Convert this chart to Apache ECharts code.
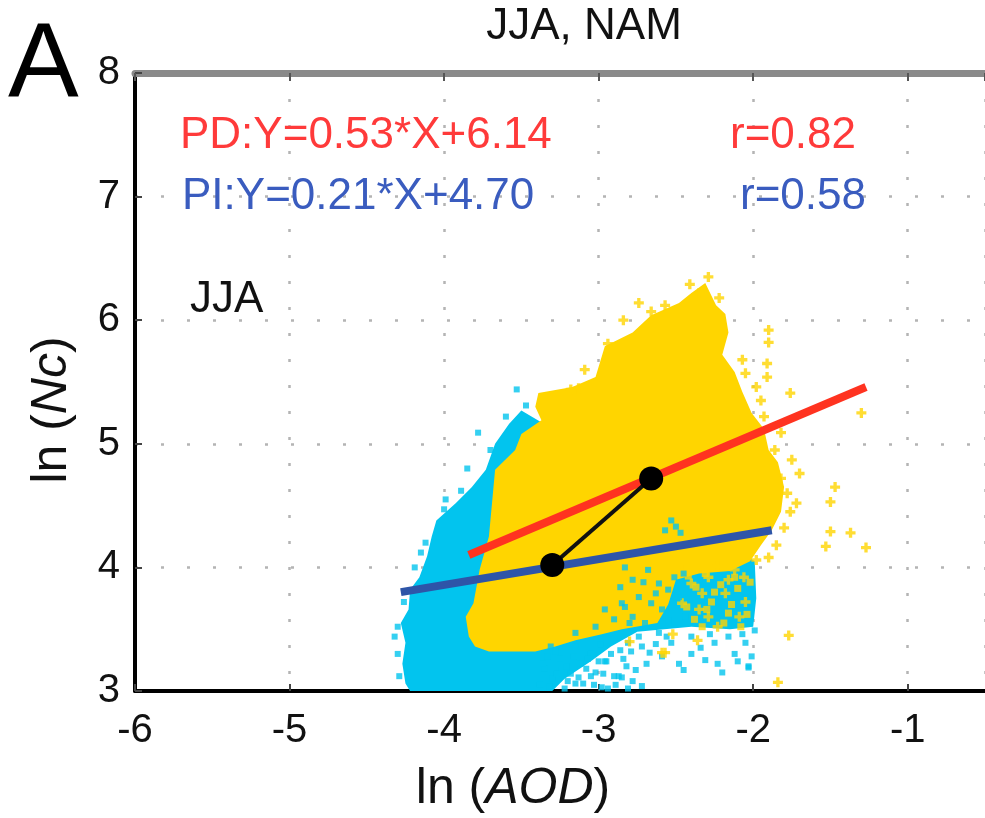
<!DOCTYPE html>
<html>
<head>
<meta charset="utf-8">
<script src="https://cdn.jsdelivr.net/npm/echarts@6/dist/echarts.min.js"></script>
<style>
html,body{margin:0;padding:0;background:#fff;}
#chart{width:985px;height:818px;}
</style>
</head>
<body>
<div id="chart"></div>
<script>
// ---------- data ----------
const panelLabel = 'A';
const titleText = 'JJA, NAM';
const seasonLabel = 'JJA';
const pdEquation = 'PD:Y=0.53*X+6.14';
const pdR = 'r=0.82';
const piEquation = 'PI:Y=0.21*X+4.70';
const piR = 'r=0.58';

// dense PI (cyan) cloud outline, [ln AOD, ln Nc]
const cyanCloud = [
  [-3.50, 5.27], [-3.58, 5.16], [-3.67, 5.00], [-3.73, 4.79], [-3.82, 4.65], [-3.925, 4.52],
  [-4.05, 4.38], [-4.08, 4.25], [-4.11, 4.09], [-4.16, 3.92], [-4.22, 3.82], [-4.23, 3.66],
  [-4.28, 3.55], [-4.25, 3.39], [-4.27, 3.22], [-4.25, 3.06], [-4.22, 3.00], [-3.30, 3.00],
  [-3.22, 3.10], [-3.05, 3.24], [-2.92, 3.36], [-2.75, 3.48], [-2.40, 3.52], [-2.15, 3.50],
  [-2.00, 3.52], [-1.98, 3.75], [-1.99, 4.05], [-2.30, 4.30], [-2.55, 4.42], [-3.00, 4.90]
];
// sparse PI points around the cloud
const cyanDots = [
  [-3.53, 5.44], [-3.78, 5.09], [-3.85, 4.80], [-3.60, 5.22], [-3.47, 5.31], [-3.70, 4.95],
  [-3.89, 4.62], [-4.00, 4.47], [-4.12, 4.20], [-4.19, 4.00], [-4.30, 3.52], [-4.32, 3.44],
  [-4.30, 3.30], [-4.29, 3.12], [-4.26, 3.72], [-4.15, 4.12], [-3.99, 4.55],
  [-3.38, 3.05], [-3.35, 3.18], [-3.30, 3.10], [-3.25, 3.26], [-3.22, 3.02], [-3.18, 3.14],
  [-3.12, 3.22], [-3.10, 3.06], [-3.05, 3.30], [-3.02, 3.15], [-2.98, 3.03], [-2.95, 3.24],
  [-2.90, 3.12], [-2.86, 3.33], [-2.82, 3.20], [-2.78, 3.08], [-3.28, 3.32], [-3.15, 3.36],
  [-2.99, 3.38], [-3.24, 3.17], [-3.15, 3.06], [-3.05, 3.12], [-2.96, 3.24], [-2.87, 3.12],
  [-2.79, 3.32], [-2.94, 3.02], [-2.81, 3.02],
  [-3.36, 3.22], [-3.32, 3.04], [-3.27, 3.14], [-3.20, 3.08], [-3.16, 3.28], [-3.13, 3.11],
  [-3.08, 3.18], [-3.03, 3.05], [-3.00, 3.24], [-2.92, 3.30], [-2.89, 3.05], [-3.33, 3.28],
  [-3.21, 3.20], [-3.07, 3.26], [-2.97, 3.14], [-2.84, 3.26], [-2.76, 3.17], [-2.72, 3.04],
  [-2.85, 3.11], [-2.81, 3.39], [-2.74, 3.44], [-2.61, 3.47], [-2.59, 3.28], [-2.53, 3.39],
  [-2.48, 3.22], [-2.40, 3.30], [-2.40, 3.44], [-2.31, 3.25], [-2.25, 3.39], [-2.23, 3.22],
  [-2.16, 3.44], [-2.12, 3.30], [-2.05, 3.39], [-2.03, 3.20], [-1.99, 3.49], [-2.01, 3.28],
  [-2.69, 3.22], [-2.67, 3.31], [-2.03, 3.19], [-2.45, 3.17], [-2.20, 3.15], [-2.72, 3.36],
  [-2.34, 3.35], [-2.10, 3.24], [-2.56, 3.44], [-2.28, 3.46], [-2.07, 3.46], [-2.63, 3.38]
];
// PI points showing through the PD cloud
const cyanOverDots = [
  [-2.83, 4.00], [-2.78, 3.90], [-2.68, 3.98], [-2.61, 3.87], [-2.55, 3.82], [-2.51, 3.92],
  [-2.74, 3.76], [-2.66, 3.71], [-2.59, 3.66], [-2.48, 3.76], [-2.44, 3.60], [-2.78, 3.60],
  [-2.55, 3.57], [-2.83, 3.68], [-2.53, 4.38], [-2.50, 4.33], [-2.47, 4.28], [-2.57, 4.30],
  [-2.85, 3.71], [-2.96, 3.66], [-2.80, 3.55], [-3.15, 3.47], [-3.02, 3.52], [-2.86, 3.84],
  [-3.31, 3.36], [-2.70, 3.55], [-2.71, 3.88], [-2.63, 3.79], [-2.90, 3.58], [-2.45, 3.95]
];
// dense PD (yellow) cloud outline
const yellowCloud = [
  [-2.31, 6.30], [-2.24, 6.12], [-2.18, 6.05], [-2.16, 5.90], [-2.20, 5.72], [-2.12, 5.58],
  [-2.07, 5.42], [-2.01, 5.25], [-1.93, 5.12], [-1.90, 4.95], [-1.84, 4.85], [-1.80, 4.65],
  [-1.82, 4.45], [-1.88, 4.30], [-1.95, 4.18], [-2.02, 4.05], [-2.15, 3.97], [-2.35, 3.95],
  [-2.50, 3.90], [-2.55, 3.70], [-2.62, 3.55], [-2.85, 3.50], [-2.98, 3.46], [-3.15, 3.41],
  [-3.28, 3.36], [-3.41, 3.32], [-3.71, 3.32], [-3.80, 3.36], [-3.84, 3.44], [-3.86, 3.60],
  [-3.81, 3.71], [-3.77, 3.98], [-3.71, 4.25], [-3.69, 4.52], [-3.67, 4.79], [-3.54, 4.95],
  [-3.50, 5.08], [-3.37, 5.19], [-3.41, 5.30], [-3.39, 5.41], [-3.17, 5.46], [-3.02, 5.54],
  [-2.96, 5.79], [-2.78, 5.90], [-2.66, 6.04], [-2.48, 6.14], [-2.40, 6.22]
];
// PD points mixed into the lower-right PI area
const yellowMixDots = [
  [-2.42, 3.93], [-2.37, 3.84], [-2.31, 3.95], [-2.27, 3.72], [-2.21, 3.86], [-2.14, 3.70],
  [-2.10, 3.83], [-2.04, 3.62], [-2.38, 3.58], [-2.30, 3.66], [-2.19, 3.55], [-2.08, 3.52],
  [-2.43, 3.68], [-2.25, 3.80], [-2.16, 3.63], [-2.02, 3.88], [-2.33, 3.52], [-2.12, 3.92]
];
// sparse PD points ('+')
const yellowDots = [
  [-2.29, 6.35], [-2.41, 6.29], [-2.35, 6.22], [-2.74, 6.14], [-2.66, 6.07], [-2.94, 5.81],
  [-3.09, 5.60], [-3.18, 5.44], [-3.13, 5.45], [-2.84, 6.00], [-2.22, 6.18], [-2.57, 6.12],
  [-1.90, 5.92], [-1.90, 5.82], [-1.91, 5.65], [-1.91, 5.54], [-2.07, 5.68], [-2.05, 5.57],
  [-1.98, 5.46], [-1.76, 5.41], [-1.30, 5.25], [-1.93, 5.22], [-1.82, 5.09], [-1.86, 4.95],
  [-1.75, 4.87], [-1.70, 4.76], [-1.47, 4.65], [-1.50, 4.53], [-1.50, 4.29], [-1.37, 4.28],
  [-1.27, 4.16], [-1.53, 4.17], [-1.77, 3.45], [-1.84, 3.07], [-1.78, 4.60], [-1.76, 4.45],
  [-1.80, 4.32], [-1.85, 4.18], [-1.90, 4.08], [-1.82, 4.72], [-1.98, 4.06], [-1.72, 4.52],
  [-1.95, 5.35], [-2.00, 5.02],
  [-2.23, 4.01], [-2.16, 3.90], [-2.33, 3.79], [-2.18, 3.79], [-2.35, 3.66], [-2.09, 3.60],
  [-2.23, 3.52], [-2.44, 3.98], [-2.40, 3.87], [-2.29, 3.92], [-2.46, 3.71], [-2.29, 3.60],
  [-2.12, 3.98], [-2.06, 3.92], [-2.59, 3.31], [-2.36, 3.41], [-2.57, 3.31], [-2.80, 3.40],
  [-2.52, 3.46], [-2.05, 3.72]
];
// regression lines and the two mean points
const pdFit = [[-3.84, 4.10], [-1.27, 5.46]];
const piFit = [[-4.28, 3.80], [-1.88, 4.30]];
const meanPoints = [[-3.30, 4.02], [-2.66, 4.72]];

// ---------- chart ----------
const FONT = '"Liberation Sans", Arial, Helvetica, sans-serif';
const chart = echarts.init(document.getElementById('chart'), null, {renderer: 'canvas'});

function polygonSeries(name, pts, color, z) {
  return {
    type: 'custom', name: name, z: z, silent: true, clip: true,
    data: pts,
    encode: {x: 0, y: 1},
    renderItem: function (params, api) {
      if (params.dataIndex !== 0) return null;
      const coords = pts.map(function (p) { return api.coord(p); });
      return {type: 'polygon', shape: {points: coords}, style: {fill: color}};
    }
  };
}

const plusPath = 'path://M2,0h2v2h2v2h-2v2h-2v-2h-2v-2h2z';
const CYAN = '#02c4ee';
const YELLOW = '#ffd500';

const option = {
  backgroundColor: '#ffffff',
  animation: false,
  grid: {left: 135, top: 73, width: 852.5, height: 618, containLabel: false},
  xAxis: [{
    type: 'value', min: -6, max: -0.5, interval: 1, position: 'bottom',
    axisLine: {show: true, onZero: false, lineStyle: {color: '#000', width: 4}},
    axisTick: {show: true, inside: true, length: 7, lineStyle: {color: '#444', width: 2}},
    axisLabel: {color: '#111', fontSize: 40, fontFamily: FONT, margin: 20, showMaxLabel: false},
    splitLine: {show: true, lineStyle: {color: '#b4b4b4', width: 2.5, type: [3, 23]}}
  }, {
    type: 'value', min: -6, max: -0.5, interval: 1, position: 'top',
    axisLine: {show: true, onZero: false, lineStyle: {color: '#8a8a8a', width: 7}},
    axisTick: {show: true, inside: true, length: 8, lineStyle: {color: '#555', width: 2}},
    axisLabel: {show: false}, splitLine: {show: false}
  }],
  yAxis: [{
    type: 'value', min: 3, max: 8, interval: 1, position: 'left',
    axisLine: {show: true, onZero: false, lineStyle: {color: '#000', width: 4}},
    axisTick: {show: true, inside: true, length: 7, lineStyle: {color: '#444', width: 2}},
    axisLabel: {color: '#111', fontSize: 40, fontFamily: FONT, margin: 15},
    splitLine: {show: true, lineStyle: {color: '#b4b4b4', width: 2.5, type: [3, 23]}}
  }],
  series: [
    polygonSeries('PI cloud', cyanCloud, CYAN, 1),
    {type: 'scatter', name: 'PI', z: 2, data: cyanDots, symbol: 'rect', symbolSize: 6,
     itemStyle: {color: CYAN}, silent: true},
    polygonSeries('PD cloud', yellowCloud, YELLOW, 3),
    {type: 'scatter', name: 'PD mixed', z: 4, data: yellowMixDots, symbol: 'rect', symbolSize: 7,
     itemStyle: {color: YELLOW}, silent: true},
    {type: 'scatter', name: 'PD', z: 4, data: yellowDots, symbol: plusPath, symbolSize: 10,
     itemStyle: {color: YELLOW}, silent: true},
    {type: 'scatter', name: 'PI over', z: 5, data: cyanOverDots, symbol: 'rect', symbolSize: 6,
     itemStyle: {color: CYAN}, silent: true},
    {type: 'line', name: 'PI fit', z: 6, data: piFit, symbol: 'none',
     lineStyle: {color: '#2e55a8', width: 8}, silent: true},
    {type: 'line', name: 'PD fit', z: 7, data: pdFit, symbol: 'none',
     lineStyle: {color: '#ff3320', width: 8}, silent: true},
    {type: 'line', name: 'means', z: 8, data: meanPoints, symbol: 'circle', symbolSize: 24,
     itemStyle: {color: '#000'}, lineStyle: {color: '#111', width: 4}, silent: true}
  ],
  graphic: [
    {type: 'text', x: 8, y: 67, style: {text: panelLabel, font: '106px ' + FONT, fill: '#000', align: 'left', verticalAlign: 'middle'}},
    {type: 'text', x: 584, y: 27, style: {text: titleText, font: '44px ' + FONT, fill: '#111', align: 'center', verticalAlign: 'middle'}},
    {type: 'text', x: 180, y: 136, z: 100, style: {text: pdEquation, font: '44px ' + FONT, fill: '#ff3a3a', align: 'left', verticalAlign: 'middle'}},
    {type: 'text', x: 730, y: 136, z: 100, style: {text: pdR, font: '44px ' + FONT, fill: '#ff3a3a', align: 'left', verticalAlign: 'middle'}},
    {type: 'text', x: 182, y: 197, z: 100, style: {text: piEquation, font: '44px ' + FONT, fill: '#3a5cbf', align: 'left', verticalAlign: 'middle'}},
    {type: 'text', x: 740, y: 197, z: 100, style: {text: piR, font: '44px ' + FONT, fill: '#3a5cbf', align: 'left', verticalAlign: 'middle'}},
    {type: 'text', x: 190, y: 300, z: 100, style: {text: seasonLabel, font: '44px ' + FONT, fill: '#111', align: 'left', verticalAlign: 'middle'}},
    {type: 'text', x: 513, y: 789, style: {
      text: '{n|ln (}{i|AOD}{n|)}', align: 'center', verticalAlign: 'middle',
      rich: {n: {fontSize: 50, fontFamily: FONT, fill: '#111'}, i: {fontSize: 50, fontFamily: FONT, fontStyle: 'italic', fill: '#111'}}
    }},
    {type: 'text', x: 52, y: 410, rotation: Math.PI / 2, style: {
      text: '{n|ln (}{i|Nc}{n|)}', align: 'center', verticalAlign: 'middle',
      rich: {n: {fontSize: 50, fontFamily: FONT, fill: '#111'}, i: {fontSize: 50, fontFamily: FONT, fontStyle: 'italic', fill: '#111'}}
    }}
  ]
};
chart.setOption(option);
</script>
</body>
</html>
